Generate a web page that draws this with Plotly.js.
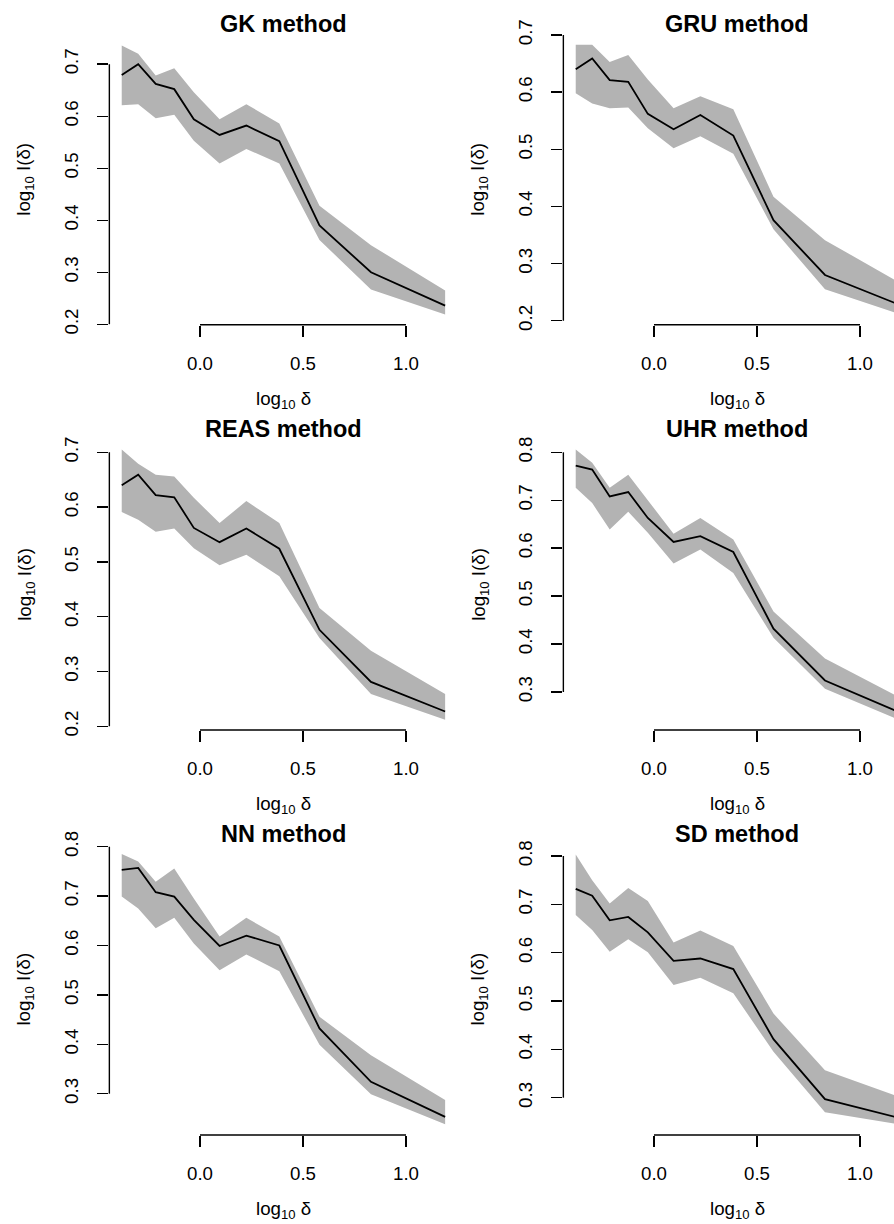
<!DOCTYPE html>
<html>
<head>
<meta charset="utf-8">
<script src="https://cdn.plot.ly/plotly-3.0.1.min.js"></script>
<style>html,body{margin:0;padding:0;background:#fff;}#chart{width:894px;height:1224px;}</style>
</head>
<body>
<div id="chart"></div>
<script>
// log10 delta values (shared by all panels)
const logDelta = [-0.38, -0.30, -0.215, -0.125, -0.03, 0.095, 0.225, 0.385, 0.58, 0.83, 1.19];

const methods = ["GK method", "GRU method", "REAS method", "UHR method", "NN method", "SD method"];

const gkMean  = [0.679, 0.700, 0.662, 0.652, 0.594, 0.564, 0.582, 0.552, 0.390, 0.300, 0.236];
const gkUpper = [0.736, 0.720, 0.678, 0.692, 0.646, 0.594, 0.623, 0.586, 0.428, 0.352, 0.265];
const gkLower = [0.621, 0.623, 0.596, 0.603, 0.553, 0.509, 0.537, 0.509, 0.362, 0.267, 0.219];

const gruMean  = [0.640, 0.659, 0.621, 0.618, 0.562, 0.535, 0.560, 0.524, 0.376, 0.280, 0.228];
const gruUpper = [0.683, 0.683, 0.653, 0.665, 0.622, 0.572, 0.593, 0.570, 0.417, 0.341, 0.267];
const gruLower = [0.598, 0.580, 0.572, 0.573, 0.537, 0.502, 0.523, 0.492, 0.360, 0.255, 0.212];

const reasMean  = [0.640, 0.659, 0.622, 0.618, 0.562, 0.536, 0.561, 0.524, 0.376, 0.281, 0.227];
const reasUpper = [0.705, 0.679, 0.659, 0.656, 0.617, 0.571, 0.611, 0.571, 0.416, 0.338, 0.259];
const reasLower = [0.591, 0.577, 0.555, 0.561, 0.525, 0.494, 0.513, 0.474, 0.361, 0.259, 0.212];

const uhrMean  = [0.772, 0.764, 0.708, 0.717, 0.663, 0.613, 0.625, 0.592, 0.432, 0.324, 0.258];
const uhrUpper = [0.806, 0.778, 0.726, 0.753, 0.700, 0.630, 0.663, 0.618, 0.468, 0.370, 0.289];
const uhrLower = [0.726, 0.694, 0.639, 0.676, 0.632, 0.568, 0.597, 0.548, 0.413, 0.307, 0.242];

const nnMean  = [0.753, 0.757, 0.708, 0.699, 0.652, 0.599, 0.620, 0.600, 0.432, 0.324, 0.253];
const nnUpper = [0.785, 0.770, 0.729, 0.756, 0.695, 0.618, 0.656, 0.618, 0.456, 0.378, 0.287];
const nnLower = [0.699, 0.675, 0.635, 0.656, 0.604, 0.550, 0.582, 0.548, 0.399, 0.299, 0.238];

const sdMean  = [0.732, 0.718, 0.667, 0.674, 0.642, 0.583, 0.588, 0.566, 0.421, 0.297, 0.258];
const sdUpper = [0.803, 0.750, 0.702, 0.734, 0.707, 0.621, 0.646, 0.614, 0.474, 0.357, 0.302];
const sdLower = [0.678, 0.647, 0.602, 0.628, 0.601, 0.533, 0.548, 0.516, 0.395, 0.270, 0.245];

const xTicks = [0, 0.5, 1.0];
const xTickText = ["0.0", "0.5", "1.0"];
const yTicksA = [0.2, 0.3, 0.4, 0.5, 0.6, 0.7];
const yTickTextA = ["0.2", "0.3", "0.4", "0.5", "0.6", "0.7"];
const yTicksB = [0.3, 0.4, 0.5, 0.6, 0.7, 0.8];
const yTickTextB = ["0.3", "0.4", "0.5", "0.6", "0.7", "0.8"];

const panels = [
  {mean: gkMean,   up: gkUpper,   lo: gkLower,   yt: yTicksA, ytt: yTickTextA, yr: [0.1992, 0.758]},
  {mean: gruMean,  up: gruUpper,  lo: gruLower,  yt: yTicksA, ytt: yTickTextA, yr: [0.193, 0.7018]},
  {mean: reasMean, up: reasUpper, lo: reasLower, yt: yTicksA, ytt: yTickTextA, yr: [0.1932, 0.7243]},
  {mean: uhrMean,  up: uhrUpper,  lo: uhrLower,  yt: yTicksB, ytt: yTickTextB, yr: [0.2207, 0.8277]},
  {mean: nnMean,   up: nnUpper,   lo: nnLower,   yt: yTicksB, ytt: yTickTextB, yr: [0.2164, 0.8065]},
  {mean: sdMean,   up: sdUpper,   lo: sdLower,   yt: yTicksB, ytt: yTickTextB, yr: [0.2228, 0.8259]}
];

// layout geometry (pixels)
const W = 894, H = 1224;
const colZero = [200, 654];          // pixel of x = 0 in each column
const pxPerUnit = 206;
const xMin = -0.44;
const rowTop = [34, 439, 843.5];
const rowBot = [324.7, 730, 1135];

const FONT = "Liberation Sans, Arial, Helvetica, sans-serif";
const BAND = "#b3b3b3";
const TICK_SIZE = 18.7;
const MAIN_SIZE = 23.5;

const traces = [];
const layout = {
  width: W, height: H,
  margin: {l: 0, r: 0, t: 0, b: 0, pad: 0},
  paper_bgcolor: "#fff", plot_bgcolor: "#fff",
  showlegend: false,
  font: {family: FONT, color: "#000", size: TICK_SIZE},
  shapes: [], annotations: []
};

panels.forEach((p, i) => {
  const n = i + 1;
  const col = i % 2, row = Math.floor(i / 2);
  const xa = "x" + (n === 1 ? "" : n), ya = "y" + (n === 1 ? "" : n);
  const left = colZero[col] + xMin * pxPerUnit;
  const rightFull = colZero[col] + 1.25 * pxPerUnit;
  const right = Math.min(rightFull, W);
  const xMax = (right - colZero[col]) / pxPerUnit;

  traces.push({
    x: logDelta.concat(logDelta.slice().reverse()),
    y: p.up.concat(p.lo.slice().reverse()),
    xaxis: xa, yaxis: ya, type: "scatter", mode: "lines",
    fill: "toself", fillcolor: BAND, line: {width: 0, color: BAND}, hoverinfo: "skip"
  });
  traces.push({
    x: logDelta, y: p.mean, xaxis: xa, yaxis: ya, type: "scatter", mode: "lines",
    line: {color: "#000", width: 1.8}
  });

  layout["xaxis" + (n === 1 ? "" : n)] = {
    domain: [left / W, right / W], range: [xMin, xMax], anchor: ya,
    tickvals: xTicks, ticktext: xTickText, ticks: "outside", ticklen: 11, tickwidth: 1.4,
    tickcolor: "#000", showline: false, showgrid: false, zeroline: false,
    tickfont: {size: TICK_SIZE, family: FONT, color: "#000"}, ticklabelstandoff: 11, fixedrange: true
  };
  layout["yaxis" + (n === 1 ? "" : n)] = {
    domain: [1 - rowBot[row] / H, 1 - rowTop[row] / H], range: p.yr, anchor: xa,
    tickvals: p.yt, ticktext: p.ytt, ticks: "outside", ticklen: 11, tickwidth: 1.4,
    tickcolor: "#000", showline: false, showgrid: false, zeroline: false, tickangle: -90,
    tickfont: {size: TICK_SIZE, family: FONT, color: "#000"}, ticklabelstandoff: 12, fixedrange: true
  };

  // axis lines spanning first to last tick (R style)
  layout.shapes.push({type: "line", xref: xa, yref: ya + " domain",
    x0: xTicks[0], x1: xTicks[xTicks.length - 1], y0: 0, y1: 0, line: {color: "#000", width: 1.4}});
  layout.shapes.push({type: "line", xref: xa + " domain", yref: ya,
    x0: 0, x1: 0, y0: p.yt[0], y1: p.yt[p.yt.length - 1], line: {color: "#000", width: 1.4}});

  const cx = (left + rightFull) / 2;
  // panel title
  layout.annotations.push({text: "<b>" + methods[i] + "</b>", xref: "paper", yref: "paper",
    x: cx / W, y: 1 - (rowTop[row] - 10) / H, xanchor: "center", yanchor: "middle",
    showarrow: false, font: {size: MAIN_SIZE, family: FONT, color: "#000"}});
  // x axis title
  layout.annotations.push({text: "log<sub>10</sub> δ", xref: "paper", yref: "paper",
    x: cx / W, y: 1 - (rowBot[row] + 75) / H, xanchor: "center", yanchor: "middle",
    showarrow: false, font: {size: TICK_SIZE, family: FONT, color: "#000"}});
  // y axis title
  layout.annotations.push({text: "log<sub>10</sub> I(δ)", xref: "paper", yref: "paper",
    x: (left - 84) / W, y: 1 - (rowTop[row] + rowBot[row]) / 2 / H, xanchor: "center", yanchor: "middle",
    textangle: -90, showarrow: false, font: {size: TICK_SIZE, family: FONT, color: "#000"}});
});

Plotly.newPlot("chart", traces, layout, {staticPlot: true, displayModeBar: false});
</script>
</body>
</html>
